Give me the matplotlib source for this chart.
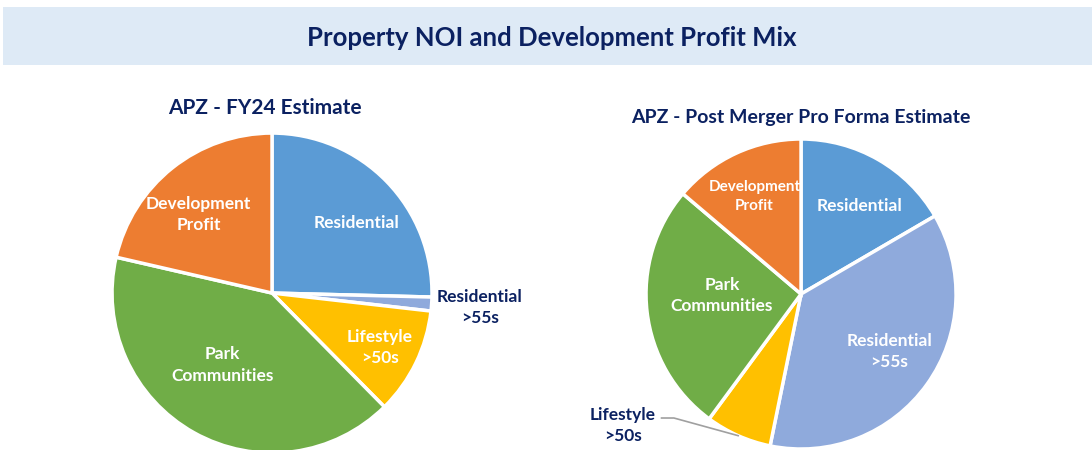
import numpy as np
import matplotlib.pyplot as plt
from matplotlib import patches

plt.rcParams['font.family'] = ['Lato', 'DejaVu Sans']

NAVY = "#0B2161"

# slice order: clockwise from 12 o'clock
segments = ["Residential", "Residential\n>55s", "Lifestyle\n>50s", "Park\nCommunities", "Development\nProfit"]
fy24_share = [25.4, 1.4, 10.8, 41.0, 21.4]
merger_share = [16.6, 36.6, 6.9, 26.1, 13.8]
colors = ["#5B9BD5", "#8FAADC", "#FFC000", "#70AD47", "#ED7D31"]

titles = ["APZ - FY24 Estimate", "APZ - Post Merger Pro Forma Estimate"]

# label placement (pie radius = 1) and font sizes
fy24_pos = [(0.53, 0.44), (1.30, -0.09), (0.675, -0.34), (-0.31, -0.45), (-0.46, 0.49)]
fy24_size = [12.5, 12.5, 12.5, 12.5, 12.5]
merger_pos = [(0.38, 0.57), (0.57, -0.37), (-1.15, -0.85), (-0.51, -0.01), (-0.30, 0.63)]
merger_size = [12.5, 12.5, 12.5, 12.5, 11]


def draw_pie(ax, values, positions, sizes, outside, leader=False):
    wedges, _ = ax.pie(values, colors=colors, startangle=90, counterclock=False,
                       wedgeprops=dict(edgecolor="white", linewidth=2.5))
    for i, (w, lab) in enumerate(zip(wedges, segments)):
        x, y = positions[i]
        col = NAVY if i == outside else "white"
        ax.text(x, y, lab, ha="center", va="center", color=col,
                fontsize=sizes[i], fontweight="bold", linespacing=1.4)
        if i == outside and leader:
            mid = np.deg2rad((w.theta1 + w.theta2) / 2)
            ex, ey = 1.0 * np.cos(mid), 1.0 * np.sin(mid)
            ax.plot([x + 0.25, x + 0.33, ex], [y + 0.05, y + 0.05, ey],
                    color="#A0A0A0", lw=1.2, clip_on=False)
    ax.set_xlim(-1, 1)
    ax.set_ylim(-1, 1)
    ax.set_aspect("equal")
    ax.axis("off")


fig = plt.figure(figsize=(10.92, 4.5), dpi=100)

# header band
fig.patches.append(patches.Rectangle((0.003, 0.855), 0.997, 0.13, transform=fig.transFigure,
                                     facecolor="#DEEAF6", edgecolor="none", zorder=0))
fig.text(0.505, 0.915, "Property NOI and Development Profit Mix", ha="center", va="center",
         color=NAVY, fontsize=18.5, fontweight="bold")

fig.text(0.243, 0.76, titles[0], ha="center", va="center", color=NAVY,
         fontsize=15, fontweight="bold")
fig.text(0.733, 0.74, titles[1], ha="center", va="center", color=NAVY,
         fontsize=14, fontweight="bold")

ax1 = fig.add_axes([0.1026, -0.0067, 0.293, 0.711])
draw_pie(ax1, fy24_share, fy24_pos, fy24_size, outside=1)

ax2 = fig.add_axes([0.5916, 0.0022, 0.2839, 0.6889])
draw_pie(ax2, merger_share, merger_pos, merger_size, outside=2, leader=True)

fig.savefig("out.png", dpi=100, facecolor="white")
